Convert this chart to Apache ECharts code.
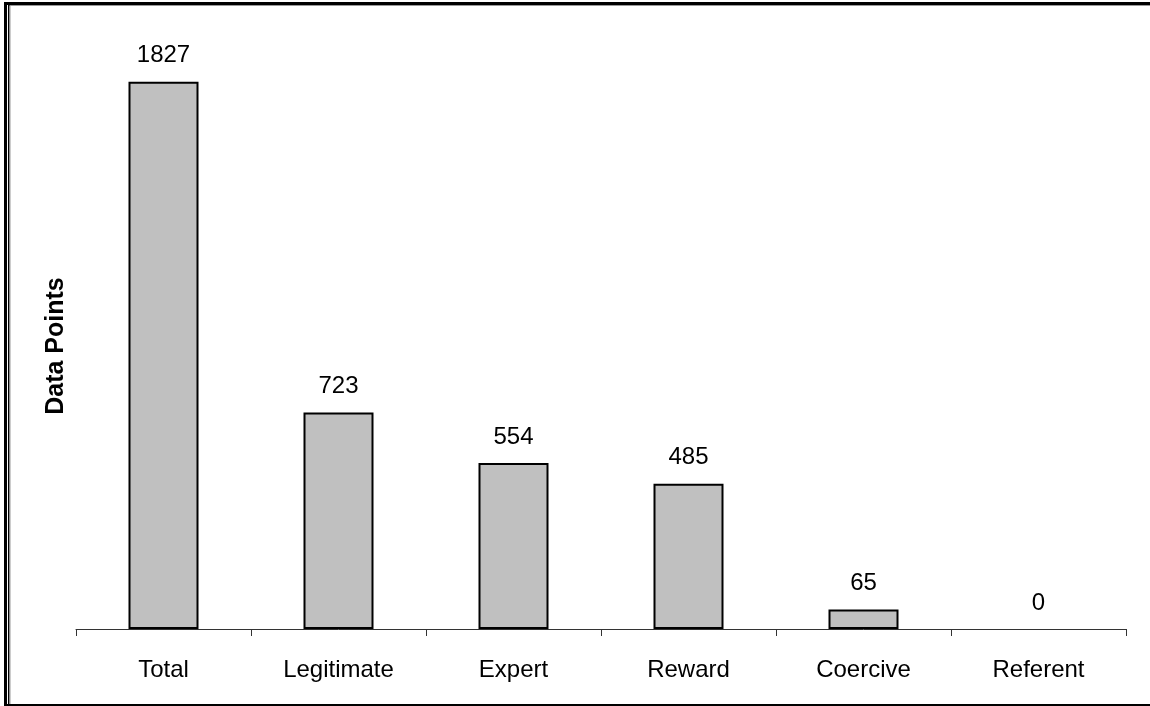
<!DOCTYPE html>
<html>
<head>
<meta charset="utf-8">
<style>
  html, body { margin: 0; padding: 0; background: #fff; }
  #chart { width: 1150px; height: 706px; }
</style>
<script src="https://cdn.jsdelivr.net/npm/echarts@6/dist/echarts.min.js"></script>
</head>
<body>
<div id="chart"></div>
<script>
// Sources of power counted across the data set
const categories = ['Total', 'Legitimate', 'Expert', 'Reward', 'Coercive', 'Referent'];
const dataPoints = [1827, 723, 554, 485, 65, 0];
const axisTitle = 'Data Points';

const chart = echarts.init(document.getElementById('chart'), null, { renderer: 'canvas' });

const FONT = 'Liberation Sans, Arial, sans-serif';

// a zero-height bar shows no outline
const barData = dataPoints.map(v => ({
  value: v,
  itemStyle: v === 0 ? { borderWidth: 0 } : undefined
}));

chart.setOption({
  animation: false,
  backgroundColor: '#ffffff',
  grid: { left: 76, right: 24, top: 30, bottom: 77 },
  xAxis: {
    type: 'category',
    data: categories,
    axisLine: { show: true, lineStyle: { color: '#333', width: 1 } },
    axisTick: { show: true, length: 7, alignWithLabel: false, lineStyle: { color: '#333', width: 1 } },
    axisLabel: { color: '#000', fontFamily: FONT, fontSize: 24, margin: 29 }
  },
  yAxis: {
    type: 'value',
    min: 0,
    max: 2000,
    axisLine: { show: false },
    axisTick: { show: false },
    axisLabel: { show: false },
    splitLine: { show: false }
  },
  series: [{
    type: 'bar',
    data: barData,
    barWidth: 70,
    itemStyle: { color: '#c0c0c0', borderColor: '#000', borderWidth: 2 },
    label: {
      show: true,
      position: 'top',
      distance: 14,
      color: '#000',
      fontFamily: FONT,
      fontSize: 24
    }
  }],
  graphic: [
    // axis title
    {
      type: 'text',
      x: 56,
      y: 346,
      rotation: Math.PI / 2,
      style: {
        text: axisTitle,
        fontFamily: FONT,
        fontSize: 25,
        fontWeight: 'bold',
        fill: '#000',
        align: 'center',
        verticalAlign: 'middle'
      }
    },
    // chart frame
    { type: 'rect', shape: { x: 4, y: 2, width: 1146, height: 3 }, style: { fill: '#000' } },
    { type: 'rect', shape: { x: 9, y: 5, width: 1141, height: 1 }, style: { fill: '#999' } },
    { type: 'rect', shape: { x: 4, y: 2, width: 3, height: 704 }, style: { fill: '#000' } },
    { type: 'rect', shape: { x: 8, y: 5, width: 1.5, height: 701 }, style: { fill: '#000' } },
    { type: 'rect', shape: { x: 9.5, y: 6, width: 1, height: 700 }, style: { fill: '#999' } },
    { type: 'rect', shape: { x: 4, y: 704, width: 1146, height: 2 }, style: { fill: '#000' } }
  ]
});
</script>
</body>
</html>
